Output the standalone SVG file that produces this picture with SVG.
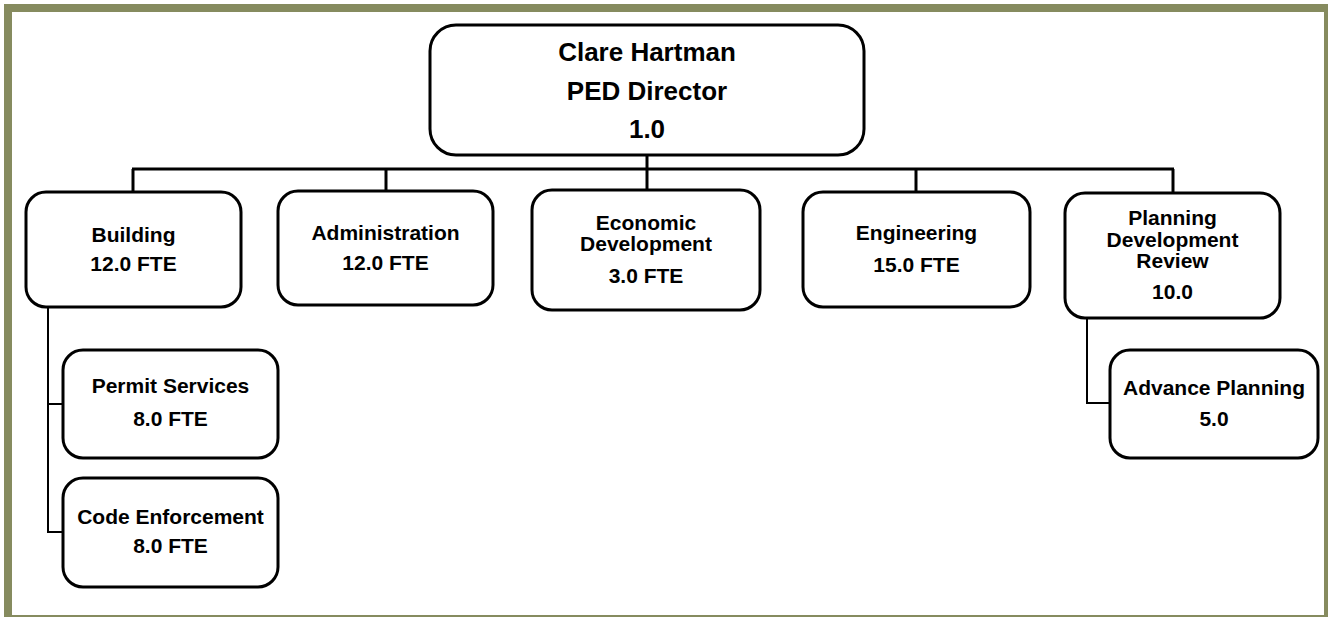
<svg xmlns="http://www.w3.org/2000/svg" width="1328" height="617" viewBox="0 0 1328 617">
  <style>
    .box { fill: #ffffff; stroke: #000000; stroke-width: 3; }
    .main { fill: none; stroke: #000000; stroke-width: 3; }
    .sub { fill: none; stroke: #000000; stroke-width: 2; }
    text { font-family: "Liberation Sans", Arial, sans-serif; font-weight: bold; fill: #000000; text-anchor: middle; }
    .t { font-size: 21px; }
    .big { font-size: 26px; }
  </style>

  <!-- page frame -->
  <rect x="0" y="0" width="1328" height="617" fill="#ffffff"/>
  <rect x="8" y="8" width="1320" height="611" fill="none" stroke="#868b5f" stroke-width="8"/>

  <!-- connectors -->
  <g id="connectors">
    <line class="main" x1="647" y1="155" x2="647" y2="169"/>
    <line class="main" x1="132" y1="169" x2="1174" y2="169"/>
    <line class="main" x1="133" y1="169" x2="133" y2="192"/>
    <line class="main" x1="386" y1="169" x2="386" y2="191"/>
    <line class="main" x1="647" y1="169" x2="647" y2="190"/>
    <line class="main" x1="916" y1="169" x2="916" y2="192"/>
    <line class="main" x1="1173" y1="169" x2="1173" y2="193"/>
    <polyline class="sub" points="48,307 48,532 63,532"/>
    <line class="sub" x1="48" y1="404" x2="63" y2="404"/>
    <polyline class="sub" points="1087,318 1087,403 1110,403"/>
  </g>

  <g id="director">
    <rect class="box" x="430" y="25" width="434" height="130" rx="26"/>
    <text class="big" x="647" y="61">Clare Hartman</text>
    <text class="big" x="647" y="100">PED Director</text>
    <text class="big" x="647" y="138">1.0</text>
  </g>

  <g id="building">
    <rect class="box" x="26" y="192" width="215" height="115" rx="20"/>
    <text class="t" x="133.5" y="242">Building</text>
    <text class="t" x="133.5" y="271">12.0 FTE</text>
  </g>

  <g id="administration">
    <rect class="box" x="278" y="191" width="215" height="114" rx="20"/>
    <text class="t" x="385.5" y="240">Administration</text>
    <text class="t" x="385.5" y="270">12.0 FTE</text>
  </g>

  <g id="economic-development">
    <rect class="box" x="532" y="190" width="228" height="120" rx="20"/>
    <text class="t" x="646" y="230">Economic</text>
    <text class="t" x="646" y="251">Development</text>
    <text class="t" x="646" y="283">3.0 FTE</text>
  </g>

  <g id="engineering">
    <rect class="box" x="803" y="192" width="227" height="115" rx="20"/>
    <text class="t" x="916.5" y="240">Engineering</text>
    <text class="t" x="916.5" y="272">15.0 FTE</text>
  </g>

  <g id="planning-development-review">
    <rect class="box" x="1065" y="193" width="215" height="125" rx="20"/>
    <text class="t" x="1172.5" y="225">Planning</text>
    <text class="t" x="1172.5" y="247">Development</text>
    <text class="t" x="1172.5" y="268">Review</text>
    <text class="t" x="1172.5" y="299">10.0</text>
  </g>

  <g id="permit-services">
    <rect class="box" x="63" y="350" width="215" height="108" rx="20"/>
    <text class="t" x="170.5" y="393">Permit Services</text>
    <text class="t" x="170.5" y="426">8.0 FTE</text>
  </g>

  <g id="code-enforcement">
    <rect class="box" x="63" y="478" width="215" height="109" rx="20"/>
    <text class="t" x="170.5" y="524">Code Enforcement</text>
    <text class="t" x="170.5" y="553">8.0 FTE</text>
  </g>

  <g id="advance-planning">
    <rect class="box" x="1110" y="350" width="208" height="108" rx="20"/>
    <text class="t" x="1214" y="395">Advance Planning</text>
    <text class="t" x="1214" y="426">5.0</text>
  </g>
</svg>
